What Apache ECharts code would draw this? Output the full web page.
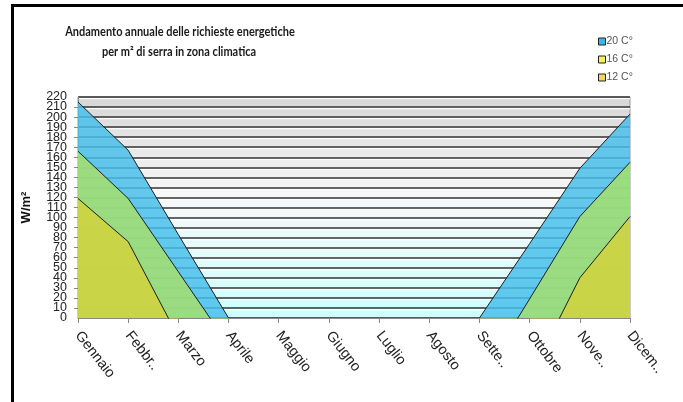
<!DOCTYPE html>
<html>
<head>
<meta charset="utf-8">
<script src="https://cdn.jsdelivr.net/npm/echarts@6/dist/echarts.min.js"></script>
<style>
  html, body { margin: 0; padding: 0; background: #fff; }
  #chart { width: 683px; height: 402px; }
</style>
</head>
<body>
<div id="chart"></div>
<script>
// Monthly heating demand per m² of greenhouse (W/m²) at three set-point temperatures
const months = ['Gennaio', 'Febbr..', 'Marzo', 'Aprile', 'Maggio', 'Giugno',
                'Luglio', 'Agosto', 'Sette..', 'Ottobre', 'Nove..', 'Dicem..'];
const demand20 = [215, 167, 83, 0, null, null, null, null, 0, 74, 149, 203];
const demand16 = [166, 119, 46, -27, null, null, null, null, -62, 19, 101, 155];
const demand12 = [119, 76, -19, null, null, null, null, null, null, -59, 40, 101];
const seriesNames = ['20 C°', '16 C°', '12 C°'];
const titleLines = ['Andamento annuale delle richieste energetiche',
                    'per m² di serra in zona climatica'];
const yTicks = { min: 0, max: 220, step: 10 };

const areaColors = ['#48bfeb', '#a6e06c', '#d2d23a'];
const legendColors = ['#3cb6e8', '#f4f060', '#f0d46a'];

const chart = echarts.init(document.getElementById('chart'), null, { renderer: 'canvas' });

function makeSeries(name, data, color) {
  return {
    name: name,
    type: 'line',
    data: data,
    yAxisIndex: 0,
    symbol: 'none',
    connectNulls: false,
    lineStyle: { color: '#1e1e1e', width: 1 },
    itemStyle: { color: color },
    areaStyle: { color: color, opacity: 0.84 },
    clip: true,
    z: 2
  };
}

// Condensed bold heading, two centred lines
const titleStyle = {
  font: 'bold 12.5px Lato, "Liberation Sans", sans-serif',
  fill: '#1a1a1a',
  align: 'center',
  verticalAlign: 'middle'
};

const yLabelStyle = {
  margin: 11,
  fontFamily: '"Liberation Sans", Arial, sans-serif',
  fontSize: 12.5,
  color: '#222',
  hideOverlap: false
};

chart.setOption({
  animation: false,
  backgroundColor: '#ffffff',
  legend: {
    orient: 'vertical',
    left: 593,
    top: 31,
    itemWidth: 7,
    itemHeight: 7,
    itemGap: 7,
    icon: 'rect',
    textStyle: {
      fontFamily: '"Liberation Sans", Arial, sans-serif',
      fontSize: 10.5,
      color: '#555',
      padding: [0, 0, 0, -4]
    },
    data: seriesNames.map((n, i) => ({
      name: n,
      itemStyle: { color: legendColors[i], borderColor: '#222', borderWidth: 1 }
    }))
  },
  grid: {
    left: 78,
    right: 53,
    top: 97,
    bottom: 84,
    show: true,
    borderColor: '#999',
    borderWidth: 1,
    backgroundColor: new echarts.graphic.LinearGradient(0, 0, 0, 1, [
      { offset: 0, color: '#d6d6d6' },
      { offset: 0.45, color: '#f8f8f8' },
      { offset: 1, color: '#ccffff' }
    ])
  },
  xAxis: {
    type: 'category',
    data: months,
    boundaryGap: false,
    axisLine: { lineStyle: { color: '#888' } },
    axisTick: { show: true, length: 5, lineStyle: { color: '#888' } },
    axisLabel: {
      rotate: -52,
      interval: 0,
      margin: 15,
      fontFamily: '"Liberation Sans", Arial, sans-serif',
      fontSize: 14.5,
      color: '#222'
    },
    splitLine: { show: false }
  },
  yAxis: [
    {
      // main scale: gridlines, ticks and the inner labels
      type: 'value',
      position: 'left',
      min: yTicks.min,
      max: yTicks.max,
      interval: yTicks.step,
      name: 'W/m²',
      nameLocation: 'middle',
      nameGap: 45,
      nameTextStyle: {
        fontFamily: '"Liberation Sans", Arial, sans-serif',
        fontSize: 13,
        fontWeight: 'bold',
        color: '#111'
      },
      axisLine: { show: true, lineStyle: { color: '#888' } },
      axisTick: { show: true, length: 4, lineStyle: { color: '#888' } },
      axisLabel: Object.assign({ showMinLabel: false, showMaxLabel: false }, yLabelStyle),
      splitLine: {
        show: true,
        lineStyle: {
          color: '#353535',
          width: 1.5,
          shadowColor: 'rgba(255,255,255,0.9)',
          shadowOffsetY: 1.5
        }
      }
    },
    {
      // end labels of the same scale (0 and 220)
      type: 'value',
      position: 'left',
      offset: 0,
      min: yTicks.min,
      max: yTicks.max,
      interval: yTicks.max - yTicks.min,
      axisLine: { show: false },
      axisTick: { show: false },
      axisLabel: Object.assign({ showMinLabel: true, showMaxLabel: true }, yLabelStyle),
      splitLine: { show: false }
    }
  ],
  graphic: [
    {
      type: 'rect',
      shape: { x: 12.5, y: 5.5, width: 720, height: 450 },
      style: { fill: null, stroke: '#000', lineWidth: 3 },
      silent: true
    },
    {
      type: 'text',
      x: 180, y: 32,
      scaleX: 0.88,
      style: Object.assign({ text: titleLines[0] }, titleStyle),
      silent: true
    },
    {
      type: 'text',
      x: 179, y: 52,
      scaleX: 0.88,
      style: Object.assign({ text: titleLines[1] }, titleStyle),
      silent: true
    }
  ],
  series: [
    makeSeries(seriesNames[0], demand20, areaColors[0]),
    makeSeries(seriesNames[1], demand16, areaColors[1]),
    makeSeries(seriesNames[2], demand12, areaColors[2])
  ]
});
</script>
</body>
</html>
